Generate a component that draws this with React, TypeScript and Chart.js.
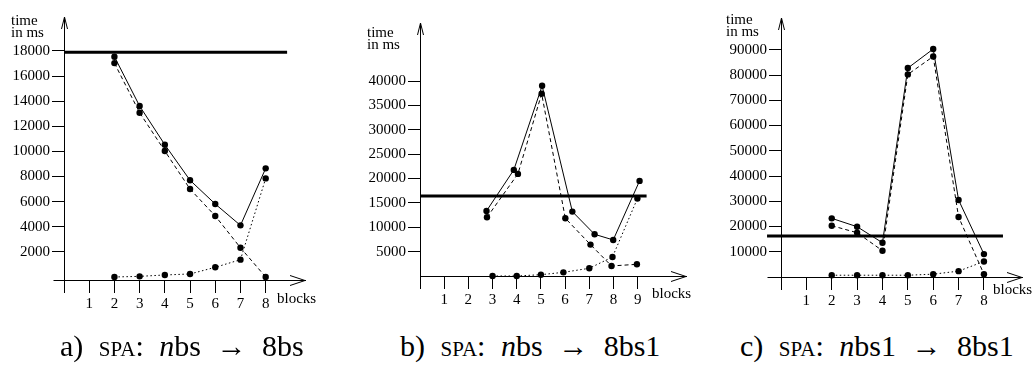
import React, { useEffect, useRef } from 'react';
import { Chart, registerables } from 'chart.js';
Chart.register(...registerables);

// ---------- Panel a) SPA: nbs -> 8bs ----------
const aBlocks = [2, 3, 4, 5, 6, 7, 8];
const aSolid = [17540, 13610, 10530, 7700, 5810, 4110, 8650];
const aDashed = [17030, 13080, 10030, 7000, 4860, 2330, 0];
const aDotted = [0, 50, 160, 240, 770, 1380, 7850];
const aThreshold = 17900;
const aThresholdSpan = [0, 8.85];
const aYTicks = [2000, 4000, 6000, 8000, 10000, 12000, 14000, 16000, 18000];
const aXTicks = [0, 1, 2, 3, 4, 5, 6, 7, 8];

// ---------- Panel b) SPA: nbs -> 8bs1 ----------
const bSolidX = [2.75, 3.88, 5.05, 6.3, 7.22, 7.99, 9.08];
const bSolid = [13360, 21780, 39040, 13220, 8560, 7400, 19520];
const bDashedX = [2.77, 4.05, 5.03, 6.01, 7.05, 7.92, 8.97];
const bDashed = [12050, 20960, 37400, 11850, 6440, 2060, 2400];
const bDottedX = [3, 4, 5, 5.93, 7, 7.96, 8.99];
const bDotted = [0, 0, 270, 750, 1580, 3900, 15890];
const bThreshold = 16400;
const bThresholdSpan = [0, 9.37];
const bYTicks = [5000, 10000, 15000, 20000, 25000, 30000, 35000, 40000];
const bXTicks = [0, 1, 2, 3, 4, 5, 6, 7, 8, 9];

// ---------- Panel c) SPA: nbs1 -> 8bs1 ----------
const cBlocks = [2, 3, 4, 5, 6, 7, 8];
const cSolid = [23230, 19920, 13570, 82750, 90290, 30500, 9070];
const cDashed = [20320, 17540, 10400, 80240, 87330, 23760, 1100];
const cDotted = [700, 700, 700, 700, 1120, 2320, 6160];
const cThreshold = 16200;
const cThresholdSpan = [-0.55, 8.75];
const cYTicks = [10000, 20000, 30000, 40000, 50000, 60000, 70000, 80000, 90000];
const cXTicks = [0, 1, 2, 3, 4, 5, 6, 7, 8];

const zip = (xs: number[], ys: number[]) => xs.map((x, i) => ({ x, y: ys[i] }));

type Panel = {
  left: number; width: number; height: number;
  padTop: number; padRight: number; padBottom: number; yWidth: number;
  xMax: number; yMin: number; yMax: number; leftExt: number;
  xTicks: number[]; yTicks: number[];
  solid: { x: number; y: number }[];
  dashed: { x: number; y: number }[];
  dotted: { x: number; y: number }[];
  threshold: { x: number; y: number }[];
};

const panels: Panel[] = [
  {
    left: 0, width: 345, height: 320, padTop: 17, padRight: 40, padBottom: 0, yWidth: 64,
    xMax: 9.56, yMin: -240, yMax: 20700, leftExt: 11,
    xTicks: aXTicks, yTicks: aYTicks,
    solid: zip(aBlocks, aSolid), dashed: zip(aBlocks, aDashed), dotted: zip(aBlocks, aDotted),
    threshold: aThresholdSpan.map((x) => ({ x, y: aThreshold })),
  },
  {
    left: 345, width: 345, height: 320, padTop: 23, padRight: 2, padBottom: 4, yWidth: 75,
    xMax: 11.0, yMin: 0, yMax: 51930, leftExt: 0,
    xTicks: bXTicks, yTicks: bYTicks,
    solid: zip(bSolidX, bSolid), dashed: zip(bDashedX, bDashed), dotted: zip(bDottedX, bDotted),
    threshold: bThresholdSpan.map((x) => ({ x, y: bThreshold })),
  },
  {
    left: 690, width: 343, height: 320, padTop: 18, padRight: 11, padBottom: 3, yWidth: 91,
    xMax: 9.5, yMin: 0, yMax: 102580, leftExt: 14,
    xTicks: cXTicks, yTicks: cYTicks,
    solid: zip(cBlocks, cSolid), dashed: zip(cBlocks, cDashed), dotted: zip(cBlocks, cDotted),
    threshold: cThresholdSpan.map((x) => ({ x, y: cThreshold })),
  },
];

const FONT = '"Liberation Serif", "DejaVu Serif", serif';

const axisArrows = {
  id: 'axisArrows',
  afterDraw(chart: any, _args: any, opts: any) {
    const { ctx, chartArea } = chart;
    const { left, top, right, bottom } = chartArea;
    const L = Math.round(left) + 0.5;
    const B = Math.round(bottom) + 0.5;
    ctx.save();
    ctx.strokeStyle = '#000';
    ctx.lineWidth = 1;
    ctx.beginPath();
    ctx.moveTo(L - 3, top + 12);
    ctx.lineTo(L, top);
    ctx.lineTo(L + 3, top + 12);
    ctx.moveTo(right - 15, B - 5);
    ctx.lineTo(right, B);
    ctx.lineTo(right - 15, B + 5);
    if (opts && opts.leftExt) {
      ctx.moveTo(L - opts.leftExt, B);
      ctx.lineTo(L, B);
    }
    ctx.stroke();
    ctx.restore();
  },
};

function PanelChart({ p }: { p: Panel }) {
  const ref = useRef<HTMLCanvasElement>(null);
  useEffect(() => {
    if (!ref.current) return;
    const lineDs = (label: string, data: any[], dash: number[]) => ({
      label,
      data,
      showLine: true,
      borderColor: '#000',
      backgroundColor: '#000',
      borderWidth: 1,
      borderDash: dash,
      pointRadius: 3.2,
      pointBorderWidth: 0,
      pointBackgroundColor: '#000',
      clip: false as any,
    });
    const chart = new Chart(ref.current, {
      type: 'scatter',
      data: {
        datasets: [
          {
            label: 'reference',
            data: p.threshold,
            showLine: true,
            borderColor: '#000',
            borderWidth: 3,
            pointRadius: 0,
            clip: false as any,
          } as any,
          lineDs('solid', p.solid, []),
          lineDs('dashed', p.dashed, [4, 3]),
          lineDs('dotted', p.dotted, [1.5, 2.5]),
        ],
      },
      options: {
        animation: false,
        responsive: false,
        devicePixelRatio: 1,
        layout: { padding: { left: 0, top: p.padTop, right: p.padRight, bottom: p.padBottom } },
        plugins: {
          legend: { display: false },
          tooltip: { enabled: false },
          axisArrows: { leftExt: p.leftExt },
        } as any,
        scales: {
          x: {
            type: 'linear',
            min: 0,
            max: p.xMax,
            afterBuildTicks: (s: any) => { s.ticks = p.xTicks.map((v) => ({ value: v })); },
            afterFit: (s: any) => { s.height = 40; },
            grid: { drawOnChartArea: false, drawTicks: true, tickLength: 13, color: '#000', lineWidth: 1 },
            border: { display: true, color: '#000', width: 1 },
            ticks: {
              autoSkip: false, maxRotation: 0, padding: 2, color: '#000',
              font: { family: FONT, size: 15 },
              callback: (v: any) => (v === 0 ? '' : String(v)),
            },
          },
          y: {
            type: 'linear',
            min: p.yMin,
            max: p.yMax,
            afterBuildTicks: (s: any) => { s.ticks = p.yTicks.map((v) => ({ value: v })); },
            afterFit: (s: any) => { s.width = p.yWidth; },
            grid: { drawOnChartArea: false, drawTicks: true, tickLength: 12, color: '#000', lineWidth: 1 },
            border: { display: true, color: '#000', width: 1 },
            ticks: {
              padding: 2, color: '#000',
              font: { family: FONT, size: 15 },
              callback: (v: any) => String(v),
            },
          },
        },
      },
      plugins: [axisArrows as any],
    });
    return () => chart.destroy();
  }, [p]);
  return (
    <canvas
      ref={ref}
      width={p.width}
      height={p.height}
      style={{ position: 'absolute', left: p.left, top: 0, width: p.width, height: p.height }}
    />
  );
}

const txt: React.CSSProperties = {
  position: 'absolute', fontFamily: FONT, fontSize: 15, lineHeight: '12px', color: '#000', whiteSpace: 'nowrap',
};
const cap: React.CSSProperties = {
  position: 'absolute', fontFamily: FONT, fontSize: 30, lineHeight: '30px', wordSpacing: 8,
  color: '#000', whiteSpace: 'nowrap',
};

function Caption({ letter, from, to }: { letter: string; from: string; to: string }) {
  return (
    <span>
      {letter}) <span style={{ fontVariant: 'small-caps' }}>spa</span>:{' '}
      <i>n</i>{from} → {to}
    </span>
  );
}

export default function App() {
  return (
    <div style={{ position: 'absolute', left: 0, top: 0, width: 1033, height: 375, background: '#fff', overflow: 'hidden' }}>
      {panels.map((p, i) => (
        <PanelChart key={i} p={p} />
      ))}
      <div style={{ ...txt, left: 11, top: 14 }}>time<br />in ms</div>
      <div style={{ ...txt, left: 367, top: 26 }}>time<br />in ms</div>
      <div style={{ ...txt, left: 726, top: 13 }}>time<br />in ms</div>
      <div style={{ ...txt, left: 277, top: 292 }}>blocks</div>
      <div style={{ ...txt, left: 652, top: 287 }}>blocks</div>
      <div style={{ ...txt, left: 993, top: 283 }}>blocks</div>
      <div style={{ ...cap, left: 60, top: 331 }}><Caption letter="a" from="bs" to="8bs" /></div>
      <div style={{ ...cap, left: 400, top: 331 }}><Caption letter="b" from="bs" to="8bs1" /></div>
      <div style={{ ...cap, left: 740, top: 331 }}><Caption letter="c" from="bs1" to="8bs1" /></div>
    </div>
  );
}
